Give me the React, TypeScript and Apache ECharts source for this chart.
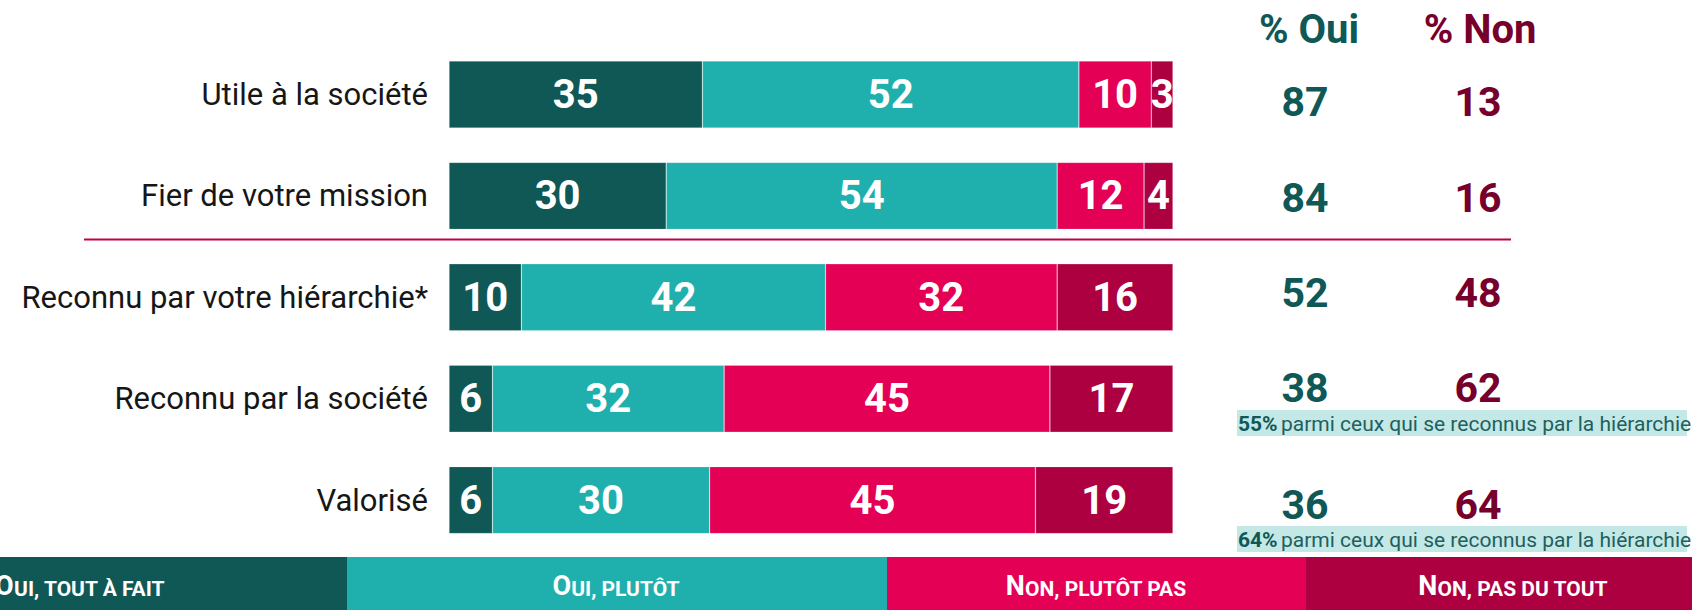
import React, { useEffect, useRef } from "react";
import * as echarts from "echarts";

const categories = [
  "Utile à la société",
  "Fier de votre mission",
  "Reconnu par votre hiérarchie*",
  "Reconnu par la société",
  "Valorisé",
];
const ouiToutAFait = [35, 30, 10, 6, 6];
const ouiPlutot = [52, 54, 42, 32, 30];
const nonPlutotPas = [10, 12, 32, 45, 45];
const nonPasDuTout = [3, 4, 16, 17, 19];
const totalOui = [87, 84, 52, 38, 36];
const totalNon = [13, 16, 48, 62, 64];
const legendNames = ["Oui, tout à fait", "Oui, plutôt", "Non, plutôt pas", "Non, pas du tout"];
const headerOui = "% Oui";
const headerNon = "% Non";
const notePct = ["", "", "", "55%", "64%"];
const noteText = "parmi ceux qui se reconnus par la hiérarchie";

// layout (positions / styles)
const COLORS = ["#0f5856", "#1fafad", "#e40055", "#ad0040"];
const OUI_COLOR = "#0f5856";
const NON_COLOR = "#76002b";
const FONT = "Roboto, 'Noto Sans', sans-serif";
const totalsY = [102, 198, 293, 388, 505];
const ouiX = 1305;
const nonX = 1478;
const noteBoxes = [null, null, null, { y: 410, h: 26 }, { y: 526, h: 26 }];
const legendRects = [
  [-183, 347],
  [347, 887],
  [887, 1306],
  [1306, 1724],
];
const legendTextX = [80, 616, 1096, 1513];

export default function App() {
  const ref = useRef<HTMLDivElement>(null);
  useEffect(() => {
    document.body.style.margin = "0";
    const chart = echarts.init(ref.current!, null, { renderer: "svg" });
    const seriesData = [ouiToutAFait, ouiPlutot, nonPlutotPas, nonPasDuTout];
    const graphics: any[] = [];
    // separator
    graphics.push({
      type: "line",
      shape: { x1: 84, y1: 239.5, x2: 1511, y2: 239.5 },
      style: { stroke: "#c0004c", lineWidth: 2 },
      z: 10,
    });
    graphics.push({
      type: "text",
      x: 1309,
      y: 29,
      style: {
        text: headerOui,
        fill: OUI_COLOR,
        font: `700 40px ${FONT}`,
        textAlign: "center",
        textVerticalAlign: "middle",
      },
    });
    graphics.push({
      type: "text",
      x: 1480,
      y: 29,
      style: {
        text: headerNon,
        fill: NON_COLOR,
        font: `700 40px ${FONT}`,
        textAlign: "center",
        textVerticalAlign: "middle",
      },
    });
    categories.forEach((_, i) => {
      graphics.push({
        type: "text",
        x: ouiX,
        y: totalsY[i],
        style: {
          text: String(totalOui[i]),
          fill: OUI_COLOR,
          font: `700 41px ${FONT}`,
          textAlign: "center",
          textVerticalAlign: "middle",
        },
      });
      graphics.push({
        type: "text",
        x: nonX,
        y: totalsY[i],
        style: {
          text: String(totalNon[i]),
          fill: NON_COLOR,
          font: `700 41px ${FONT}`,
          textAlign: "center",
          textVerticalAlign: "middle",
        },
      });
      const nb = noteBoxes[i];
      if (nb && notePct[i]) {
        graphics.push({
          type: "rect",
          shape: { x: 1237, y: nb.y, width: 450, height: nb.h },
          style: { fill: "#c3e8e6" },
        });
        graphics.push({
          type: "text",
          x: 1238,
          y: nb.y + nb.h / 2 + 1,
          style: {
            text: `{b|${notePct[i]}} {n|${noteText}}`,
            textVerticalAlign: "middle",
            rich: {
              b: { fontFamily: FONT, fontWeight: 700, fontSize: 21, fill: "#0f5856" },
              n: { fontFamily: FONT, fontWeight: 400, fontSize: 21, fill: "#1f5f5d" },
            },
          },
        });
      }
    });
    // legend bar
    legendNames.forEach((name, i) => {
      const [x0, x1] = legendRects[i];
      graphics.push({
        type: "rect",
        shape: { x: x0, y: 557, width: x1 - x0, height: 60 },
        style: { fill: COLORS[i] },
      });
      graphics.push({
        type: "text",
        x: legendTextX[i],
        y: 599,
        style: {
          text: `{a|${name[0].toUpperCase()}}{b|${name.slice(1).toUpperCase()}}`,
          textAlign: "center",
          textVerticalAlign: "bottom",
          rich: {
            a: { fontFamily: FONT, fontWeight: 700, fontSize: 27, fill: "#fff", verticalAlign: "bottom", lineHeight: 28 },
            b: { fontFamily: FONT, fontWeight: 700, fontSize: 21, fill: "#fff", verticalAlign: "bottom", lineHeight: 25 },
          },
        },
      });
    });

    chart.setOption({
      animation: false,
      grid: { left: 449, right: 519, top: 43.8, height: 507, containLabel: false },
      xAxis: { type: "value", min: 0, max: 100, show: false },
      yAxis: {
        type: "category",
        data: categories,
        inverse: true,
        axisLine: { show: false },
        axisTick: { show: false },
        axisLabel: {
          margin: 21,
          fontFamily: FONT,
          fontSize: 31,
          color: "#161616",
        },
      },
      series: seriesData.map((d, i) => ({
        type: "bar",
        name: legendNames[i],
        stack: "total",
        data: d,
        barWidth: 67,
        itemStyle: { color: COLORS[i], borderColor: "rgba(255,255,255,0.35)", borderWidth: 0.6 },
        label: {
          show: true,
          position: "inside",
          color: "#fff",
          fontFamily: FONT,
          fontWeight: 700,
          fontSize: 40,
        },
      })),
      graphic: graphics,
    });
    return () => chart.dispose();
  }, []);
  return <div ref={ref} style={{ width: 1692, height: 610 }} />;
}
